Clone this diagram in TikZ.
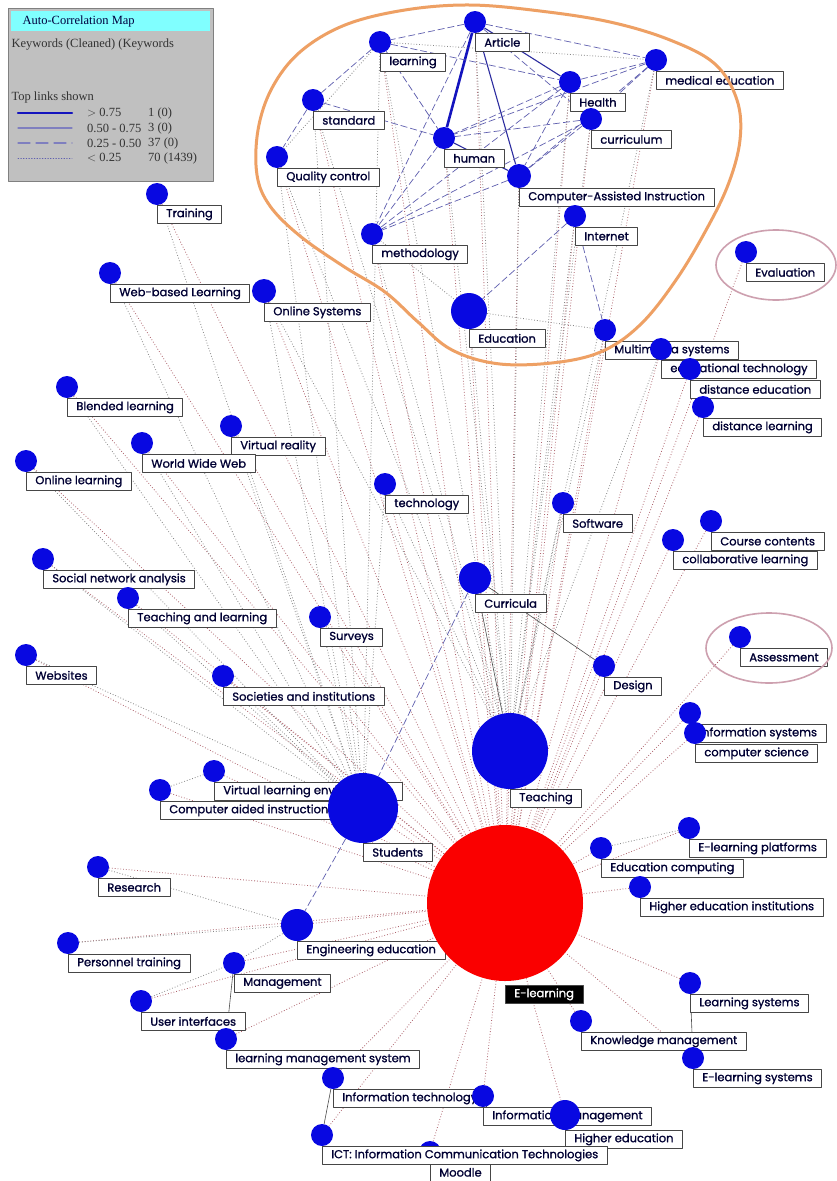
\documentclass[tikz,border=0pt]{standalone}
\usepackage{fontspec}
\usepackage{tikz}
\usetikzlibrary{backgrounds}
\newfontfamily\kwfont{Poppins}[FakeBold=1.2]
\newfontfamily\legfont{Liberation Serif}
\definecolor{kwblue}{RGB}{8,8,225}
\definecolor{kwred}{RGB}{250,0,0}
\definecolor{lowred}{RGB}{175,100,110}
\definecolor{lowgray}{RGB}{135,135,135}
\definecolor{dashblue}{RGB}{95,95,175}
\definecolor{midblue}{RGB}{45,45,160}
\definecolor{topblue}{RGB}{20,20,190}
\definecolor{loopcol}{RGB}{238,160,100}
\definecolor{ringcol}{RGB}{205,160,175}
\definecolor{legbg}{RGB}{192,192,192}
\definecolor{legbar}{RGB}{128,255,255}
\newcommand{\kw}[5][11]{%
  \node[kwbox] (#2-l) at (#3,#4+#1) {#5};
  \node[kwdot,minimum size=2*#1] (#2) at (#3,#4) {};
}
\tikzset{
  kwbox/.style={draw=gray!55!black,fill=white,line width=0.7pt,anchor=north west,
    inner xsep=9pt,inner ysep=0pt,minimum height=18pt,text=black!80!blue,
    font=\kwfont\fontsize{11.5}{13}\selectfont},
  kwdot/.style={circle,fill=kwblue,inner sep=0pt},
  lowlink/.style={lowred,dotted,line width=0.8pt},
  graylink/.style={lowgray,dotted,line width=0.8pt},
  dashlink/.style={dashblue,dash pattern=on 7pt off 3pt,line width=0.7pt},
  midlink/.style={midblue,line width=1.1pt},
  toplink/.style={topblue,line width=2.6pt},
  thinlink/.style={gray!60!black,line width=0.6pt},
}
\begin{document}
\begin{tikzpicture}[x=1pt,y=-1pt,line cap=round,line join=round]
\useasboundingbox (0,0) rectangle (837,1181);
% top cluster
\kw{article}{475}{22}{Article}
\kw{learning}{380}{42}{learning}
\kw{medical}{656}{60}{medical education}
\kw{health}{570}{82}{Health}
\kw{standard}{313}{100}{standard}
\kw{curriculum}{591}{119}{curriculum}
\kw{human}{444}{138}{human}
\kw{quality}{277}{157}{Quality control}
\kw[12]{cainstr}{519}{176}{Computer-Assisted Instruction}
\kw{training}{157}{194}{Training}
\kw{internet}{575}{216}{Internet}
\kw{methodology}{372}{234}{methodology}
\kw{evaluation}{746}{252}{Evaluation}
\kw{webbased}{110}{273}{Web-based Learning}
\kw[12]{onlinesys}{264}{291}{Online Systems}
\kw[18]{education}{469}{311}{Education}
\kw{multimedia}{605}{330}{Multimedia systems}
\kw{edutech}{661}{349}{educational technology}
\kw{distedu}{690}{369}{distance education}
\kw{blended}{67}{387}{Blended learning}
\kw{distlearn}{703}{407}{distance learning}
% middle
\kw{vreality}{231}{426}{Virtual reality}
\kw{www}{142}{443}{World Wide Web}
\kw{onlinelearn}{26}{461}{Online learning}
\kw{technology}{385}{484}{technology}
\kw{software}{563}{503}{Software}
\kw{course}{711}{521}{Course contents}
\kw{collab}{673}{540}{collaborative learning}
\kw{sna}{43}{559}{Social network analysis}
\kw[16]{curricula}{475}{578}{Curricula}
\kw{teachlearn}{128}{598}{Teaching and learning}
\kw{surveys}{320}{617}{Surveys}
\kw{assessment}{740}{637}{Assessment}
\kw{websites}{26}{655}{Websites}
\kw{design}{604}{666}{Design}
\kw{societies}{223}{676}{Societies and institutions}
\kw{infosys}{690}{713}{Information systems}
\kw{compsci}{695}{733}{computer science}
\kw[38]{teaching}{510}{751}{Teaching}
\kw{vle}{214}{771}{Virtual learning environments}
\kw{cai}{160}{790}{Computer aided instruction}
\kw[35]{students}{363}{808}{Students}
% lower part
\kw{elplat}{689}{828}{E-learning platforms}
\kw{educomp}{601}{848}{Education computing}
\kw{research}{98}{867}{Research}
\kw{hei}{640}{887}{Higher education institutions}
\kw[16]{engedu}{297}{925}{Engineering education}
\kw{personnel}{68}{943}{Personnel training}
\kw{management}{234}{963}{Management}
\kw{learnsys}{690}{983}{Learning systems}
\kw{userint}{141}{1001}{User interfaces}
\kw{knowmgmt}{581}{1021}{Knowledge management}
\kw{lms}{226}{1039}{learning management system}
\kw{elsys}{693}{1058}{E-learning systems}
\kw{infotech}{333}{1078}{Information technology}
\kw{infomgmt}{483}{1096}{Information management}
\kw[15]{highered}{565}{1115}{Higher education}
\kw{moodle}{430}{1152}{Moodle}
\kw{ict}{322}{1135}{ICT: Information Communication Technologies}
% main keyword
\node[kwdot,fill=kwred,minimum size=156] (elearn) at (505,903) {};
\node[kwbox,fill=black,text=white] (elearn-l) at (505,985) {E-learning};
% links
\begin{pgfonlayer}{background}
\fill[white] (0,0) rectangle (837,1181);
\foreach \n in {article,learning,medical,health,standard,curriculum,human,quality,cainstr,
  training,internet,methodology,evaluation,webbased,onlinesys,education,multimedia,edutech,
  distedu,blended,distlearn,vreality,www,onlinelearn,technology,software,course,collab,sna,
  curricula,teachlearn,surveys,assessment,websites,design,societies,infosys,compsci,teaching,
  vle,cai,students,elplat,educomp,research,hei,engedu,personnel,management,learnsys,userint,
  knowmgmt,lms,elsys,infotech,infomgmt,highered,moodle,ict}
  \draw[lowlink] (\n) -- (elearn);
\foreach \n in {article,learning,standard,quality,human,methodology,education,cainstr,
  internet,curriculum,health,medical,technology,software,multimedia,onlinesys,edutech}
  \draw[graylink] (\n) -- (teaching);
\foreach \n in {training,webbased,onlinesys,blended,vreality,www,onlinelearn,technology,
  sna,teachlearn,surveys,websites,societies,quality,standard,learning}
  \draw[graylink] (\n) -- (students);
\draw[toplink] (article) -- (human);
\draw[midlink] (article) -- (health);
\draw[midlink] (article) -- (cainstr);
\draw[midlink] (human) -- (cainstr);
\foreach \a/\b in {article/learning,article/medical,learning/standard,standard/quality,
  standard/human,health/medical,health/human,health/cainstr,health/methodology,
  medical/human,medical/cainstr,curriculum/human,curriculum/cainstr,curriculum/methodology,
  human/methodology,cainstr/methodology,article/methodology,internet/education,
  internet/multimedia,learning/human,article/curriculum,learning/health,medical/curriculum,
  curricula/students,students/engedu}
  \draw[dashlink] (\a) -- (\b);
\foreach \a/\b in {learning/medical,methodology/education,education/multimedia,
  vle/cai,educomp/elplat,personnel/engedu,research/engedu,management/engedu,
  userint/management,quality/learning}
  \draw[graylink] (\a) -- (\b);
\foreach \a/\b in {curricula/teaching,curricula/design,management/lms,infotech/ict,
  learnsys/elsys}
  \draw[thinlink] (\a) -- (\b);
\end{pgfonlayer}
% hand-drawn marks
\draw[loopcol,line width=3pt] plot[smooth cycle,tension=0.6] coordinates {
  (257,175) (258,130) (272,88) (300,52) (345,25) (405,10) (470,5) (540,11) (610,22)
  (670,40) (715,64) (737,100) (740,140) (728,185) (705,232) (676,280) (642,323)
  (605,350) (560,362) (500,364) (452,350) (418,322) (385,292) (343,266) (300,236) (270,206)};
\draw[ringcol,line width=1.6pt] (776,265) ellipse [x radius=60,y radius=35];
\draw[ringcol,line width=1.6pt] (769,648) ellipse [x radius=63,y radius=35];
% legend
\node[draw=gray,fill=legbg,minimum width=205,minimum height=173,anchor=north west,
  inner sep=0pt] (legend) at (8,8) {};
\node[fill=legbar,minimum width=199,minimum height=20,anchor=north west,inner sep=0pt]
  (legtitle) at (11,11) {};
\begin{scope}[font=\legfont\fontsize{12.5}{14}\selectfont,text=black!80]
\node[anchor=west,text=black!75!blue] (legname) at (19,21) {Auto-Correlation Map};
\node[anchor=west] (legsrc) at (8,45) {Keywords (Cleaned) (Keywords};
\node[anchor=west] (leghead) at (8,97) {Top links shown};
\draw[topblue,line width=2.4pt] (18,113) -- (72,113);
\draw[dashblue!80,line width=1.2pt] (18,128) -- (72,128);
\draw[dashblue!80,line width=1.2pt,dash pattern=on 12pt off 6pt] (18,143) -- (72,143);
\draw[dashblue,line width=0.7pt,dotted] (18,158) -- (72,158);
\foreach \y/\r/\c in {113/{$>$ 0.75}/1 (0),128/0.50 - 0.75/3 (0),143/0.25 - 0.50/37 (0),
  158/{$<$ 0.25}/70 (1439)} {
  \node[anchor=west,inner sep=0pt] at (87,\y) {\r};
  \node[anchor=west,inner sep=0pt] at (148,\y) {\c};
}
\end{scope}
\end{tikzpicture}
\end{document}
